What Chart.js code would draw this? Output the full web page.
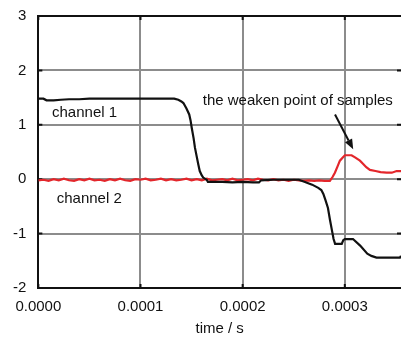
<!DOCTYPE html>
<html>
<head>
<meta charset="utf-8">
<script src="https://cdn.jsdelivr.net/npm/chart.js@4/dist/chart.umd.min.js"></script>
<style>
html,body{margin:0;padding:0;background:#fff;}
canvas{display:block;}
</style>
</head>
<body>
<canvas id="c" width="401" height="340"></canvas>
<script>
// time in microseconds (converted to seconds below)
const ch1TimeUs = [0,5,8,15,22,30,40,50,60,70,80,90,100,110,120,133,137,140,142,145,147.7,149,150.1,152,153.3,155,156.6,158,160,161.4,164.8,166,180,190,200,210,216,218,230,240,250,255,261,268,274,277,279,281,283.5,285.5,287.5,289,290.5,297,298.5,300,308,315,322,326,331,354,355];
const ch1Values = [1.48,1.48,1.45,1.45,1.46,1.47,1.47,1.48,1.48,1.48,1.48,1.48,1.48,1.48,1.48,1.48,1.46,1.43,1.40,1.30,1.19,1.08,0.95,0.75,0.58,0.42,0.27,0.15,0.07,0.03,-0.01,-0.05,-0.05,-0.06,-0.05,-0.06,-0.06,-0.02,-0.01,-0.01,-0.01,-0.01,-0.05,-0.10,-0.16,-0.20,-0.27,-0.38,-0.53,-0.75,-0.95,-1.10,-1.19,-1.19,-1.12,-1.10,-1.10,-1.22,-1.37,-1.41,-1.44,-1.44,-1.41];

const ch2TimeUs = [0,5,10,15,20,25,30,35,40,45,50,55,60,65,70,75,80,85,90,95,100,105,110,115,120,125,130,135,140,145,150,155,160,165,170,175,180,185,190,195,200,205,210,215,220,225,230,235,240,245,250,255,260,265,270,275,280,285.4,288,290.3,293,295.2,298,300.1,306.6,310,314.8,318,321,324.6,330,335,340.9,346,350.7,355];
const ch2Values = [-0.02,-0.01,-0.03,0.0,-0.02,0.01,-0.02,-0.03,0.0,-0.02,0.01,-0.02,-0.01,-0.03,0.0,-0.02,0.01,-0.02,-0.03,0.0,-0.01,0.01,-0.02,-0.01,0.01,-0.02,0.0,-0.02,-0.01,0.01,-0.02,0.0,-0.02,0.01,-0.02,-0.01,0.0,-0.02,0.01,-0.02,-0.01,0.0,-0.02,0.01,-0.01,-0.02,0.0,-0.02,-0.01,-0.03,-0.01,-0.02,-0.03,-0.02,-0.03,-0.02,-0.03,-0.03,0.04,0.12,0.24,0.34,0.40,0.44,0.44,0.40,0.34,0.28,0.22,0.17,0.15,0.13,0.12,0.12,0.15,0.15];

const xTicks = [0, 0.0001, 0.0002, 0.0003];
const yTicks = [-2, -1, 0, 1, 2, 3];

const annotations = [
  {text: 'channel 1', t: 13.4e-6, v: 1.22},
  {text: 'channel 2', t: 18e-6, v: -0.37},
  {text: 'the weaken point of samples', t: 160.9e-6, v: 1.44}
];
const arrowFrom = {t: 290.4e-6, v: 1.19};
const arrowTo = {t: 308.2e-6, v: 0.55};

const FONT = "'Liberation Sans', Arial, sans-serif";
const toPts = (ts, vs) => ts.map((t, i) => ({x: t * 1e-6, y: vs[i]}));

const innerTicksPlugin = {
  id: 'innerTicks',
  beforeDatasetsDraw(chart) {
    const {ctx, chartArea: a, scales: {x, y}} = chart;
    const len = 4;
    ctx.save();
    ctx.strokeStyle = '#111';
    ctx.lineWidth = 2;
    ctx.beginPath();
    xTicks.forEach(v => {
      const px = x.getPixelForValue(v);
      ctx.moveTo(px, a.top); ctx.lineTo(px, a.top + len);
      ctx.moveTo(px, a.bottom); ctx.lineTo(px, a.bottom - len);
    });
    yTicks.forEach(v => {
      const py = y.getPixelForValue(v);
      ctx.moveTo(a.left, py); ctx.lineTo(a.left + len, py);
      ctx.moveTo(a.right, py); ctx.lineTo(a.right - len, py);
    });
    ctx.stroke();
    ctx.restore();
  }
};

const annotPlugin = {
  id: 'annot',
  afterDatasetsDraw(chart) {
    const {ctx, scales: {x, y}} = chart;
    ctx.save();
    ctx.fillStyle = '#111';
    ctx.font = '15px ' + FONT;
    ctx.textAlign = 'left';
    ctx.textBaseline = 'middle';
    annotations.forEach(a => ctx.fillText(a.text, x.getPixelForValue(a.t), y.getPixelForValue(a.v)));
    const x1 = x.getPixelForValue(arrowFrom.t), y1 = y.getPixelForValue(arrowFrom.v);
    const x2 = x.getPixelForValue(arrowTo.t), y2 = y.getPixelForValue(arrowTo.v);
    const ang = Math.atan2(y2 - y1, x2 - x1);
    const hl = 10, hw = 4;
    const bx = x2 - hl * Math.cos(ang), by = y2 - hl * Math.sin(ang);
    ctx.strokeStyle = '#111';
    ctx.lineWidth = 2;
    ctx.beginPath(); ctx.moveTo(x1, y1); ctx.lineTo(bx, by); ctx.stroke();
    ctx.beginPath();
    ctx.moveTo(x2, y2);
    ctx.lineTo(bx + hw * Math.sin(ang), by - hw * Math.cos(ang));
    ctx.lineTo(bx - hw * Math.sin(ang), by + hw * Math.cos(ang));
    ctx.closePath(); ctx.fill();
    ctx.restore();
  }
};

new Chart(document.getElementById('c'), {
  type: 'line',
  data: {
    datasets: [
      {label: 'channel 1', data: toPts(ch1TimeUs, ch1Values), borderColor: '#111', borderWidth: 2.2, pointRadius: 0, tension: 0},
      {label: 'channel 2', data: toPts(ch2TimeUs, ch2Values), borderColor: '#e3262b', borderWidth: 2.2, pointRadius: 0, tension: 0}
    ]
  },
  options: {
    responsive: false,
    animation: false,
    devicePixelRatio: 1,
    layout: {padding: {left: 13, top: 16, right: 0, bottom: 0}},
    plugins: {legend: {display: false}, tooltip: {enabled: false}},
    scales: {
      x: {
        type: 'linear', min: 0, max: 0.000355,
        afterBuildTicks: s => { s.ticks = xTicks.map(v => ({value: v})); },
        ticks: {color: '#111', font: {family: FONT, size: 15}, padding: 10, maxRotation: 0,
          callback: v => Number(v).toFixed(4)},
        grid: {color: '#8c8c8c', lineWidth: 2, drawTicks: false},
        border: {color: '#111', width: 2},
        title: {display: true, text: 'time / s', color: '#111', font: {family: FONT, size: 15}, padding: {top: -6, bottom: 2}}
      },
      xTop: {
        type: 'linear', position: 'top', min: 0, max: 0.000355,
        ticks: {display: false},
        grid: {display: false, drawTicks: false},
        border: {color: '#111', width: 2}
      },
      y: {
        min: -2, max: 3,
        afterBuildTicks: s => { s.ticks = yTicks.map(v => ({value: v})); },
        ticks: {color: '#111', font: {family: FONT, size: 15}, padding: 0},
        grid: {color: '#8c8c8c', lineWidth: 2, drawTicks: true, tickLength: 12, tickColor: 'rgba(0,0,0,0)'},
        border: {color: '#111', width: 2}
      }
    }
  },
  plugins: [innerTicksPlugin, annotPlugin]
});
</script>
</body>
</html>
